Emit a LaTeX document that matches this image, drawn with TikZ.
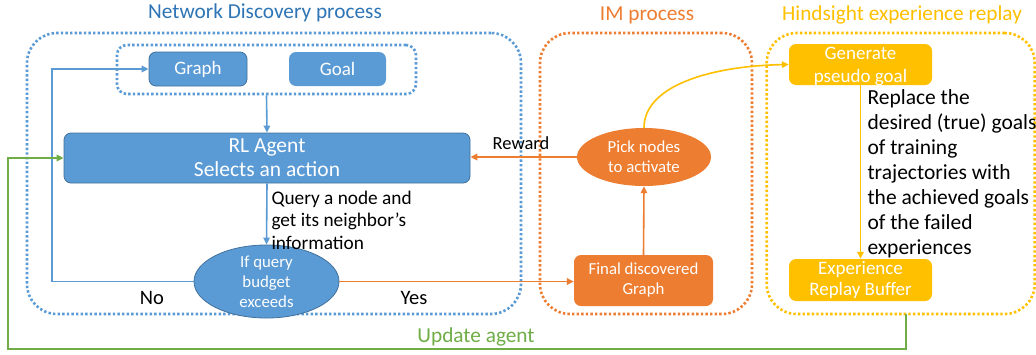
\documentclass[tikz,border=0pt]{standalone}
\usepackage{fontspec}
\setmainfont{Carlito}
\usetikzlibrary{arrows.meta,shapes.geometric}
\definecolor{oblue}{HTML}{5B9BD5}
\definecolor{oblued}{HTML}{41719C}
\definecolor{otitle}{HTML}{2E75B6}
\definecolor{oorange}{HTML}{ED7D31}
\definecolor{oyellow}{HTML}{FFC000}
\definecolor{ogreen}{HTML}{70AD47}
\tikzset{
  dots/.style={line width=2.6pt, dash pattern=on 2.4pt off 2.2pt},
  region/.style={draw, dots, rounded corners=30pt, inner sep=0pt},
  box/.style={rectangle, rounded corners=7pt, inner sep=0pt, text=white, align=center},
  oval/.style={ellipse, inner sep=0pt, text=white, align=center},
  title/.style={font=\fontsize{21.3}{25}\selectfont},
  lbl/.style={font=\fontsize{21.5}{25}\selectfont, align=left, text=black},
  conn/.style={line width=1.6pt, -{Triangle[length=7pt,width=6.5pt]}},
}
\begin{document}
\begin{tikzpicture}[x=1pt,y=-1pt]
\useasboundingbox[fill=white] (0,0) rectangle (1036,354);

% process regions
\node[region, draw=oblue, minimum width=494pt, minimum height=281pt] (ndbox) at (274,173.5) {};
\node[region, draw=oorange, minimum width=212pt, minimum height=281pt] (imbox) at (646,173.5) {};
\node[region, draw=oyellow, minimum width=268pt, minimum height=281pt] (herbox) at (1036,173.5) [anchor=east] {};

% region titles
\node[title, text=otitle] (tnd) at (265,13) {Network Discovery process};
\node[title, text=oorange] (tim) at (647,15) {IM process};
\node[title, text=oyellow] (ther) at (902,15) {Hindsight experience replay};

% network discovery
\node[draw=oblue, dots, rounded corners=10pt, minimum width=299pt, minimum height=49pt] (inp) at (266.5,69.5) {};
\node[box, fill=oblue, draw=oblued, line width=0.8pt, minimum width=98pt, minimum height=34pt, font=\fontsize{19}{22}\selectfont] (graph) at (198,69) {Graph};
\node[box, fill=oblue, minimum width=97pt, minimum height=34pt, font=\fontsize{19}{22}\selectfont] (goal) at (337.5,69) {Goal};
\node[box, fill=oblue, draw=oblued, line width=0.8pt, minimum width=406pt, minimum height=50pt, font=\fontsize{21.5}{24}\selectfont] (rl) at (267,158) {RL Agent\\Selects an action};
\node[oval, fill=oblue, draw=oblued, line width=0.8pt, minimum width=145pt, minimum height=57pt, font=\fontsize{16.8}{20}\selectfont] (qb) at (266.5,281.5) {If query\\budget\\exceeds};

% influence maximisation
\node[oval, fill=oorange, minimum width=134pt, minimum height=58pt, font=\fontsize{16.8}{20}\selectfont] (pick) at (644,157) {Pick nodes\\to activate};
\node[box, fill=oorange, minimum width=139pt, minimum height=51pt, font=\fontsize{16.8}{20}\selectfont] (fin) at (643.5,280.5) {Final discovered\\Graph};

% hindsight experience replay
\node[box, fill=oyellow, minimum width=143pt, minimum height=41pt, font=\fontsize{19}{23}\selectfont] (gen) at (860.5,64.5) {};
\node[text=white, align=center, font=\fontsize{19}{23}\selectfont] (gentxt) at (860.5,66) {Generate\\pseudo goal};
\node[box, fill=oyellow, minimum width=143pt, minimum height=42pt, font=\fontsize{19}{21.5}\selectfont] (exp) at (860.5,280) {Experience\\Replay Buffer};

% connectors
\draw[conn, oblue] (inp.south) -- (rl.north);
\draw[conn, oblue] (rl.south) -- (qb.north);
\draw[conn, oblue, line width=1.8pt] (qb.west) -- (52,281.5) -- (52,69) -- (graph.west);
\draw[conn, oorange] (qb.east) -- (qb.east -| fin.west);
\draw[conn, oorange] (fin.north) -- (pick.south);
\draw[conn, oorange] (pick.west) -- (pick.west -| rl.east);
\draw[conn, oyellow] (pick.north) .. controls (644,86) and (710,66) .. (gen.west);
\draw[conn, oyellow] (gen.south) -- (exp.north);
\coordinate (gstart) at (906,314);
\draw[conn, ogreen, line width=1.8pt] (gstart) -- (906,349) -- (8,349) -- (8,158) -- (rl.west);

% labels
\node[lbl, anchor=west, font=\fontsize{19.3}{22.5}\selectfont] (qlbl) at (268,220) {Query a node and\\get its neighbor’s\\information};
\node[lbl, font=\fontsize{18.5}{22}\selectfont] (rwd) at (521,143) {Reward};
\node[lbl, font=\fontsize{20.5}{24}\selectfont] (no) at (152,298) {No};
\node[lbl, font=\fontsize{20.5}{24}\selectfont] (yes) at (414,298) {Yes};
\node[title, text=ogreen] (upd) at (476,337) {Update agent};
\node[lbl, anchor=west] (rep) at (864,173.5) {Replace the\\desired (true) goals\\of training\\trajectories with\\the achieved goals\\of the failed\\experiences};
\end{tikzpicture}
\end{document}
